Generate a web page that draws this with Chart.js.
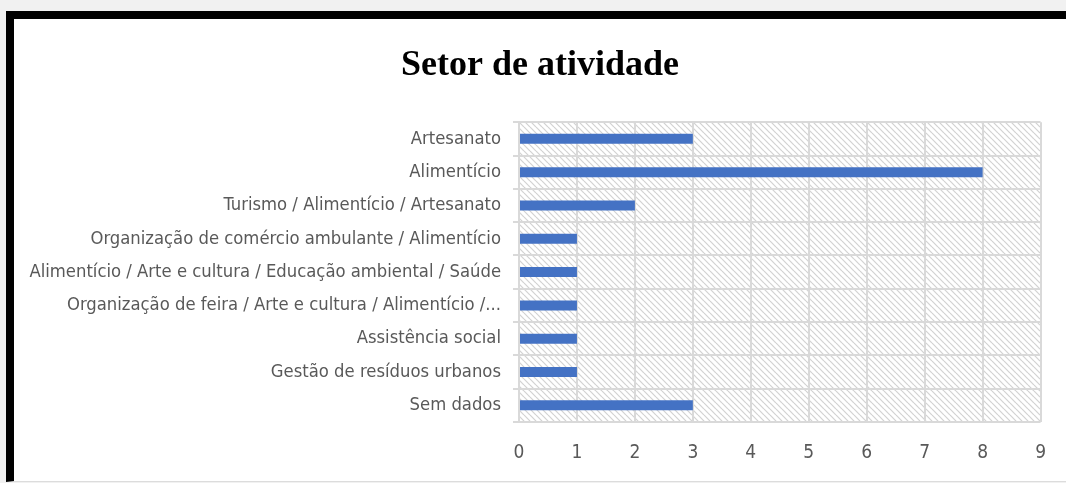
<!DOCTYPE html>
<html>
<head>
<meta charset="utf-8">
<script src="https://cdn.jsdelivr.net/npm/chart.js@4"></script>
<style>
  html, body { margin: 0; padding: 0; background: #f1f1f1; overflow: hidden; }
  body { width: 1066px; height: 483px; position: relative; }
  #frame {
    position: absolute; left: 6px; top: 11px;
    width: 1060px; height: 462px;
    border-left: 8px solid #000; border-top: 8px solid #000;
    border-bottom: 1px solid #dcdcdc;
    background: #fff;
  }
  #box { position: absolute; left: 0; top: 0; width: 1052px; height: 462px; }
</style>
</head>
<body>
<div id="frame"><div id="box"><canvas id="myChart"></canvas></div></div>
<script>
// DATA
const categories = [
  "Artesanato",
  "Alimentício",
  "Turismo / Alimentício / Artesanato",
  "Organização de comércio ambulante / Alimentício",
  "Alimentício / Arte e cultura / Educação ambiental / Saúde",
  "Organização de feira / Arte e cultura / Alimentício /...",
  "Assistência social",
  "Gestão de resíduos urbanos",
  "Sem dados"
];
const counts = [3, 8, 2, 1, 1, 1, 1, 1, 3];
const axisMin = 0;
const axisMax = 9;

// hatch fill behind the bars
function makeHatch() {
  const s = 6;
  const c = document.createElement('canvas');
  c.width = s; c.height = s;
  const g = c.getContext('2d');
  g.strokeStyle = '#d2d2d2';
  g.lineWidth = 1.2;
  [-s, 0, s].forEach(function (o) {
    g.beginPath();
    g.moveTo(0, o);
    g.lineTo(s, o + s);
    g.stroke();
  });
  return c;
}

const hatchBg = {
  id: 'hatchBg',
  beforeDraw(chart) {
    const a = chart.chartArea;
    const ctx = chart.ctx;
    ctx.save();
    ctx.fillStyle = ctx.createPattern(makeHatch(), 'repeat');
    ctx.fillRect(a.left, a.top, a.right - a.left, a.bottom - a.top);
    ctx.restore();
  }
};

const narrow = "'Liberation Sans Narrow', 'DejaVu Sans Condensed', sans-serif";

const ctx = document.getElementById('myChart').getContext('2d');

const chart = new Chart(ctx, {
  type: 'bar',
  data: {
    labels: categories,
    datasets: [{
      label: "Setor de atividade",
      backgroundColor: '#4472C4',
      borderColor: '#4472C4',
      data: counts,
      barPercentage: 0.3,
      categoryPercentage: 1
    }]
  },
  options: {
    indexAxis: 'y',
    responsive: true,
    maintainAspectRatio: false,
    animation: false,
    layout: { padding: { left: 0, right: 0, top: 0, bottom: 16 } },
    plugins: {
      legend: { display: false },
      tooltip: { enabled: false },
      title: {
        display: true,
        text: 'Setor de atividade',
        color: '#000',
        font: { family: "'Liberation Serif', 'Times New Roman', serif", size: 36, weight: 'bold' },
        padding: { top: 25, bottom: 35 }
      }
    },
    scales: {
      x: {
        min: axisMin,
        max: axisMax,
        afterFit(scale) { scale.height = 43; },
        ticks: { stepSize: 1, color: '#595959', font: { family: narrow, size: 19 }, padding: 20 },
        grid: { color: '#d9d9d9', lineWidth: 2, drawTicks: false },
        border: { display: false }
      },
      y: {
        afterFit(scale) { scale.width = 505; },
        ticks: { color: '#595959', font: { family: narrow, size: 18.3 }, padding: 12 },
        grid: { color: '#d9d9d9', lineWidth: 2, offset: true, tickLength: 6 },
        border: { color: '#d9d9d9', width: 2 }
      },
      // empty strip on the right so the plot ends before the frame edge
      rightGap: {
        type: 'linear',
        axis: 'y',
        position: 'right',
        afterFit(scale) { scale.width = 25; },
        ticks: { display: false },
        grid: { display: false },
        border: { display: false }
      }
    }
  },
  plugins: [hatchBg]
});
</script>
</body>
</html>
